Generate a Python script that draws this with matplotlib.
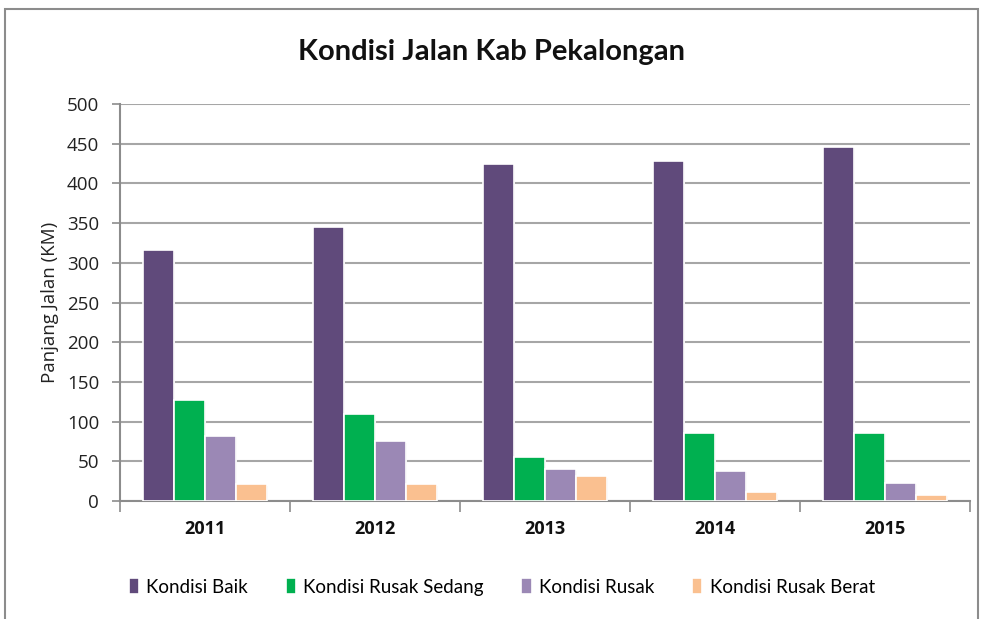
import matplotlib
matplotlib.use("Agg")
import matplotlib.pyplot as plt
from matplotlib.patches import Rectangle
import numpy as np

years = ["2011", "2012", "2013", "2014", "2015"]
kondisi_baik = [316, 345, 424, 428, 446]
kondisi_rusak_sedang = [127, 110, 56, 86, 86]
kondisi_rusak = [82, 75, 40, 38, 23]
kondisi_rusak_berat = [21, 21, 31, 11, 8]

series = [
    ("Kondisi Baik", kondisi_baik, "#604A7B"),
    ("Kondisi Rusak Sedang", kondisi_rusak_sedang, "#00B050"),
    ("Kondisi Rusak", kondisi_rusak, "#9B88B5"),
    ("Kondisi Rusak Berat", kondisi_rusak_berat, "#FAC090"),
]

plt.rcParams["font.family"] = ["Open Sans", "DejaVu Sans"]

fig = plt.figure(figsize=(9.84, 6.19), dpi=100)
fig.patch.set_facecolor("white")

# outer chart frame
fig.patches.append(Rectangle((5 / 984, -0.05), 973 / 984, 1 - 9 / 619 + 0.05,
                             transform=fig.transFigure, fill=False,
                             edgecolor="#8c8c8c", linewidth=1.5))

ax = fig.add_axes([120 / 984, 1 - 501 / 619, 850 / 984, (501 - 104) / 619])

x = np.arange(len(years))
step = 0.182
width = 0.182
offsets = (np.arange(len(series)) - 1.5) * step
for (name, vals, color), off in zip(series, offsets):
    # soft shadow behind each bar
    ax.bar(x + off + 0.012, vals, width * 0.92, bottom=-2, color="#d0d0d0",
           alpha=0.6, zorder=2, linewidth=0)
    ax.bar(x + off, vals, width, color=color, edgecolor="white",
           linewidth=1.2, label=name, zorder=3)

ax.set_xlim(-0.5, len(years) - 0.5)
ax.set_ylim(0, 500)
ax.set_yticks(range(0, 501, 50))
ax.set_yticklabels([str(v) for v in range(0, 501, 50)], fontsize=13.5, color="#222222")
ax.yaxis.grid(True, color="#a6a6a6", linewidth=1.5, zorder=0)
ax.set_axisbelow(True)
ax.tick_params(axis="y", length=6, color="#8c8c8c", width=1.2, pad=9)

ax.set_xticks(x)
ax.set_xticklabels(years, fontsize=13, fontweight="bold", color="#111111")
ax.tick_params(axis="x", length=0, pad=14)
ax.set_xticks(np.arange(-0.5, len(years)), minor=True)
ax.tick_params(axis="x", which="minor", length=8, color="#8c8c8c", width=1.2)

for side in ["top", "right"]:
    ax.spines[side].set_visible(False)
for side in ["left", "bottom"]:
    ax.spines[side].set_color("#8c8c8c")
    ax.spines[side].set_linewidth(1.5)

ax.set_ylabel("Panjang Jalan (KM)", fontsize=13.5, color="#222222", labelpad=6)

fig.text(0.5, 1 - 52 / 619, "Kondisi Jalan Kab Pekalongan", ha="center", va="center",
         fontsize=21, fontweight="bold", color="#111111", family=["Lato", "DejaVu Sans"])

handles, labels = ax.get_legend_handles_labels()
fig.legend(handles, labels, loc="center", bbox_to_anchor=(0.51, 1 - 587 / 619),
           ncol=4, frameon=False, fontsize=13.5, handlelength=0.55, handleheight=0.9,
           handletextpad=0.4, columnspacing=2.0,
           prop={"family": ["Lato", "DejaVu Sans"], "size": 13.5})

fig.savefig("out.png", dpi=100, facecolor="white")
